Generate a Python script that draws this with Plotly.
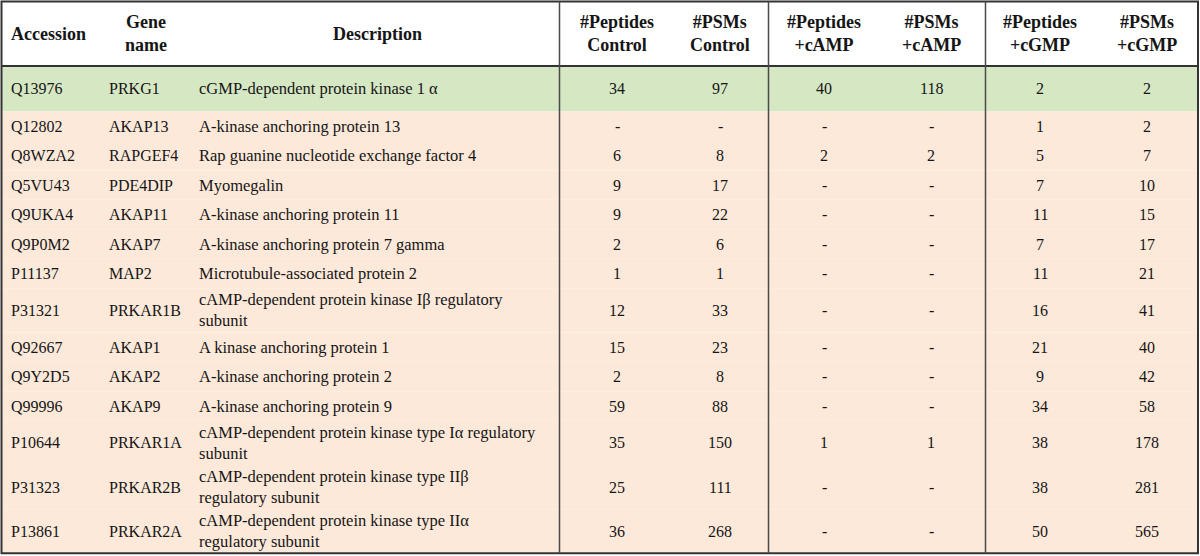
import plotly.graph_objects as go

# ---------------- data ----------------
headers = ["Accession", "Gene\nname", "Description",
           "#Peptides\nControl", "#PSMs\nControl",
           "#Peptides\n+cAMP", "#PSMs\n+cAMP",
           "#Peptides\n+cGMP", "#PSMs\n+cGMP"]

accession = ["Q13976", "Q12802", "Q8WZA2", "Q5VU43", "Q9UKA4", "Q9P0M2", "P11137",
             "P31321", "Q92667", "Q9Y2D5", "Q99996", "P10644", "P31323", "P13861"]
gene = ["PRKG1", "AKAP13", "RAPGEF4", "PDE4DIP", "AKAP11", "AKAP7", "MAP2",
        "PRKAR1B", "AKAP1", "AKAP2", "AKAP9", "PRKAR1A", "PRKAR2B", "PRKAR2A"]
description = [
    "cGMP-dependent protein kinase 1 α",
    "A-kinase anchoring protein 13",
    "Rap guanine nucleotide exchange factor 4",
    "Myomegalin",
    "A-kinase anchoring protein 11",
    "A-kinase anchoring protein 7 gamma",
    "Microtubule-associated protein 2",
    "cAMP-dependent protein kinase Iβ regulatory\nsubunit",
    "A kinase anchoring protein 1",
    "A-kinase anchoring protein 2",
    "A-kinase anchoring protein 9",
    "cAMP-dependent protein kinase type Iα regulatory\nsubunit",
    "cAMP-dependent protein kinase type IIβ\nregulatory subunit",
    "cAMP-dependent protein kinase type IIα\nregulatory subunit",
]
peptides_control = [34, None, 6, 9, 9, 2, 1, 12, 15, 2, 59, 35, 25, 36]
psms_control = [97, None, 8, 17, 22, 6, 1, 33, 23, 8, 88, 150, 111, 268]
peptides_camp = [40, None, 2, None, None, None, None, None, None, None, None, 1, None, None]
psms_camp = [118, None, 2, None, None, None, None, None, None, None, None, 1, None, None]
peptides_cgmp = [2, 1, 5, 7, 11, 7, 11, 16, 21, 9, 34, 38, 38, 50]
psms_cgmp = [2, 2, 7, 10, 15, 17, 21, 41, 40, 42, 58, 178, 281, 565]
highlight_rows = ["Q13976"]

# ---------------- layout / style ----------------
W, H = 1200, 556
GREEN = "#d6e7c4"
PEACH = "#fde9da"
LINE = "#333333"
TXT = "#151515"
FONT = "Liberation Serif"

top, header_h, first_h, single_h, double_h = 1.5, 64.5, 45.5, 29.45, 44.2
left, right = 1.5, 1198
vlines = [559.5, 768.5, 985.5]

text_cols = [(9, 16), (107, 16), (197, 16.5)]  # (x, font size)
num_centers = [617, 720, 824, 931, 1040, 1147]
header_centers = [9, 146, 377] + num_centers

fmt = lambda v: "-" if v is None else str(v)
num_cols = [peptides_control, psms_control, peptides_camp, psms_camp, peptides_cgmp, psms_cgmp]

fig = go.Figure()
shapes = []
annotations = []

# header
y0 = top
y1 = top + header_h
ymid = (y0 + y1) / 2
for i, h in enumerate(headers):
    x = header_centers[i]
    annotations.append(dict(
        x=x, y=ymid, xref="x", yref="y", text="<b>" + h.replace("\n", "<br>") + "</b>",
        showarrow=False, xanchor="left" if i == 0 else "center", yanchor="middle",
        align="center", font=dict(family=FONT, size=18, color=TXT)))

# body rows
y = y1
for r in range(len(accession)):
    if r == 0:
        rh = first_h
    else:
        rh = double_h if "\n" in description[r] else single_h
    fill = GREEN if accession[r] in highlight_rows else PEACH
    shapes.append(dict(type="rect", xref="x", yref="y", x0=left, x1=right, y0=y, y1=y + rh,
                       fillcolor=fill, line=dict(width=0), layer="below"))
    ym = y + rh / 2
    for (x, fs), col in zip(text_cols, [accession, gene, description]):
        annotations.append(dict(
            x=x, y=ym, xref="x", yref="y", text=col[r].replace("\n", "<br>"),
            showarrow=False, xanchor="left", yanchor="middle", align="left",
            font=dict(family=FONT, size=fs, color=TXT)))
    for xc, col in zip(num_centers, num_cols):
        annotations.append(dict(
            x=xc, y=ym, xref="x", yref="y", text=fmt(col[r]),
            showarrow=False, xanchor="center", yanchor="middle",
            font=dict(family=FONT, size=16, color=TXT)))
    y += rh
bottom = y

# lines
shapes.append(dict(type="rect", xref="x", yref="y", x0=left, x1=right, y0=top, y1=bottom,
                   line=dict(color=LINE, width=2), fillcolor="rgba(0,0,0,0)", layer="above"))
shapes.append(dict(type="line", xref="x", yref="y", x0=left, x1=right, y0=y1, y1=y1,
                   line=dict(color=LINE, width=2), layer="above"))
for vx in vlines:
    shapes.append(dict(type="line", xref="x", yref="y", x0=vx, x1=vx, y0=top, y1=bottom,
                       line=dict(color="#4a4a4a", width=1.5), layer="above"))

fig.update_layout(
    width=W, height=H, margin=dict(l=0, r=0, t=0, b=0),
    paper_bgcolor="white", plot_bgcolor="white",
    xaxis=dict(range=[0, W], visible=False, fixedrange=True),
    yaxis=dict(range=[H, 0], visible=False, fixedrange=True),
    shapes=shapes, annotations=annotations, showlegend=False,
)
fig.write_html("out.html", config={"displayModeBar": False},
               post_script="document.body.style.margin='0';document.body.style.padding='0';"
                           "document.body.style.overflow='hidden';")
